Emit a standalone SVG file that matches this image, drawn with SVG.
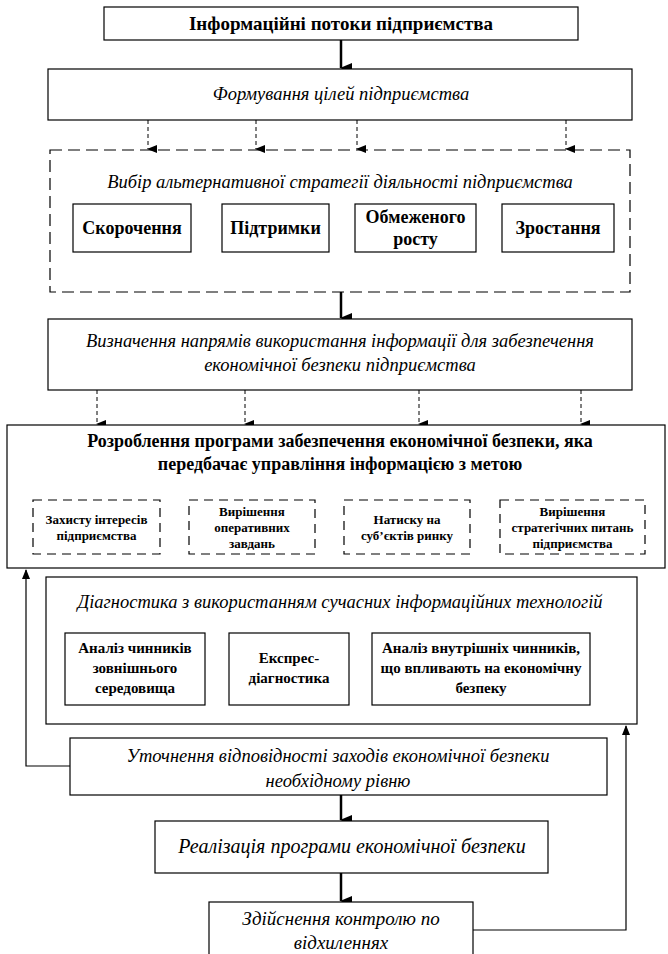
<svg xmlns="http://www.w3.org/2000/svg" width="668" height="954" viewBox="0 0 668 954">
<style>
.box{fill:#fff;stroke:#000;stroke-width:1.2}
.dbox{fill:none;stroke:#000;stroke-width:1.2;stroke-dasharray:12 6}
.sdbox{fill:none;stroke:#000;stroke-width:1.2;stroke-dasharray:9 6}
.thick{stroke:#000;stroke-width:2.5;fill:none}
.dash{stroke:#000;stroke-width:1;stroke-dasharray:4 3;fill:none}
.fb{stroke:#000;stroke-width:1.2;fill:none}
</style>
<defs>
<marker id="ah" markerUnits="userSpaceOnUse" markerWidth="10" markerHeight="12" refX="5" refY="11" orient="auto" viewBox="0 0 10 12"><path d="M0,0 L10,0 L5,12 Z" fill="#000"/></marker>
<marker id="ahs" markerUnits="userSpaceOnUse" markerWidth="8" markerHeight="10" refX="4" refY="9" orient="auto" viewBox="0 0 8 10"><path d="M0,0 L8,0 L4,10 Z" fill="#000"/></marker>
<marker id="ahu" markerUnits="userSpaceOnUse" markerWidth="8" markerHeight="10" refX="4" refY="1" viewBox="0 0 8 10"><path d="M0,10 L8,10 L4,0 Z" fill="#000"/></marker>
</defs>

<g id="connectors">
<line class="thick" x1="341" y1="40" x2="341" y2="68" marker-end="url(#ah)"/>
<line class="dash" x1="148" y1="120" x2="148" y2="149" marker-end="url(#ahs)"/>
<line class="dash" x1="256" y1="120" x2="256" y2="149" marker-end="url(#ahs)"/>
<line class="dash" x1="357" y1="120" x2="357" y2="149" marker-end="url(#ahs)"/>
<line class="dash" x1="566" y1="120" x2="566" y2="149" marker-end="url(#ahs)"/>
<line class="thick" x1="341" y1="292" x2="341" y2="318" marker-end="url(#ah)"/>
<line class="dash" x1="97" y1="390" x2="97" y2="424" marker-end="url(#ahs)"/>
<line class="dash" x1="245" y1="390" x2="245" y2="424" marker-end="url(#ahs)"/>
<line class="dash" x1="419" y1="390" x2="419" y2="424" marker-end="url(#ahs)"/>
<line class="dash" x1="581" y1="390" x2="581" y2="424" marker-end="url(#ahs)"/>
<polyline class="fb" points="70,766 26,766 26,570" marker-end="url(#ahu)"/>
<line class="thick" x1="341" y1="795" x2="341" y2="820" marker-end="url(#ah)"/>
<line class="thick" x1="341" y1="873" x2="341" y2="901" marker-end="url(#ah)"/>
<polyline class="fb" points="473,930 626,930 626,726" marker-end="url(#ahu)"/>
</g>

<g id="n1">
<rect class="box" x="104" y="7" width="474" height="33"/>
<text font-family="'Liberation Serif', serif" text-anchor="middle" font-weight="bold" x="341" y="30" font-size="19">Інформаційні потоки підприємства</text>
</g>
<g id="n2">
<rect class="box" x="48" y="69" width="584" height="51"/>
<text font-family="'Liberation Serif', serif" text-anchor="middle" font-style="italic" x="341" y="100" font-size="18.5">Формування цілей підприємства</text>
</g>
<g id="n3">
<rect class="dbox" x="50" y="150" width="580" height="142"/>
<text font-family="'Liberation Serif', serif" text-anchor="middle" font-style="italic" x="340" y="188" font-size="18.5">Вибір альтернативної стратегії діяльності підприємства</text>
</g>
<g id="n3a">
<rect class="box" x="73" y="204" width="118" height="48"/>
<text font-family="'Liberation Serif', serif" text-anchor="middle" font-weight="bold" x="132" y="234" font-size="18">Скорочення</text>
</g>
<g id="n3b">
<rect class="box" x="222" y="204" width="107" height="48"/>
<text font-family="'Liberation Serif', serif" text-anchor="middle" font-weight="bold" x="275.5" y="234" font-size="18">Підтримки</text>
</g>
<g id="n3c">
<rect class="box" x="355" y="204" width="121" height="48"/>
<text font-family="'Liberation Serif', serif" text-anchor="middle" font-weight="bold" x="415.5" y="223" font-size="18">Обмеженого</text>
<text font-family="'Liberation Serif', serif" text-anchor="middle" font-weight="bold" x="415.5" y="245" font-size="18">росту</text>
</g>
<g id="n3d">
<rect class="box" x="502" y="204" width="112" height="48"/>
<text font-family="'Liberation Serif', serif" text-anchor="middle" font-weight="bold" x="558" y="234" font-size="18">Зростання</text>
</g>
<g id="n4">
<rect class="box" x="48" y="319" width="584" height="71"/>
<text font-family="'Liberation Serif', serif" text-anchor="middle" font-style="italic" x="340" y="347" font-size="18.5">Визначення напрямів використання інформації для забезпечення</text>
<text font-family="'Liberation Serif', serif" text-anchor="middle" font-style="italic" x="340" y="371" font-size="18.5">економічної безпеки підприємства</text>
</g>
<g id="n5">
<rect class="box" x="7" y="425" width="658" height="143"/>
<text font-family="'Liberation Serif', serif" text-anchor="middle" font-weight="bold" x="340" y="447" font-size="18">Розроблення програми забезпечення економічної безпеки, яка</text>
<text font-family="'Liberation Serif', serif" text-anchor="middle" font-weight="bold" x="340" y="470" font-size="18">передбачає управління інформацією з метою</text>
</g>
<g id="n5a">
<rect class="sdbox" x="33" y="500" width="127" height="54"/>
<text font-family="'Liberation Serif', serif" text-anchor="middle" font-weight="bold" x="96.5" y="524" font-size="13">Захисту інтересів</text>
<text font-family="'Liberation Serif', serif" text-anchor="middle" font-weight="bold" x="96.5" y="540" font-size="13">підприємства</text>
</g>
<g id="n5b">
<rect class="sdbox" x="189" y="500" width="126" height="54"/>
<text font-family="'Liberation Serif', serif" text-anchor="middle" font-weight="bold" x="252" y="516" font-size="13">Вирішення</text>
<text font-family="'Liberation Serif', serif" text-anchor="middle" font-weight="bold" x="252" y="532" font-size="13">оперативних</text>
<text font-family="'Liberation Serif', serif" text-anchor="middle" font-weight="bold" x="252" y="548" font-size="13">завдань</text>
</g>
<g id="n5c">
<rect class="sdbox" x="344" y="500" width="126" height="54"/>
<text font-family="'Liberation Serif', serif" text-anchor="middle" font-weight="bold" x="407" y="524" font-size="13">Натиску на</text>
<text font-family="'Liberation Serif', serif" text-anchor="middle" font-weight="bold" x="407" y="540" font-size="13">суб’єктів ринку</text>
</g>
<g id="n5d">
<rect class="sdbox" x="500" y="500" width="145" height="54"/>
<text font-family="'Liberation Serif', serif" text-anchor="middle" font-weight="bold" x="572.5" y="516" font-size="13">Вирішення</text>
<text font-family="'Liberation Serif', serif" text-anchor="middle" font-weight="bold" x="572.5" y="532" font-size="13">стратегічних питань</text>
<text font-family="'Liberation Serif', serif" text-anchor="middle" font-weight="bold" x="572.5" y="548" font-size="13">підприємства</text>
</g>
<g id="n6">
<rect class="box" x="46" y="577" width="591" height="147"/>
<text font-family="'Liberation Serif', serif" text-anchor="middle" font-style="italic" x="340" y="608" font-size="18.5">Діагностика з використанням сучасних інформаційних технологій</text>
</g>
<g id="n6a">
<rect class="box" x="65" y="633" width="140" height="72"/>
<text font-family="'Liberation Serif', serif" text-anchor="middle" font-weight="bold" x="135" y="653" font-size="15">Аналіз чинників</text>
<text font-family="'Liberation Serif', serif" text-anchor="middle" font-weight="bold" x="135" y="673" font-size="15">зовнішнього</text>
<text font-family="'Liberation Serif', serif" text-anchor="middle" font-weight="bold" x="135" y="693" font-size="15">середовища</text>
</g>
<g id="n6b">
<rect class="box" x="229" y="633" width="120" height="72"/>
<text font-family="'Liberation Serif', serif" text-anchor="middle" font-weight="bold" x="289" y="663" font-size="15">Експрес-</text>
<text font-family="'Liberation Serif', serif" text-anchor="middle" font-weight="bold" x="289" y="683" font-size="15">діагностика</text>
</g>
<g id="n6c">
<rect class="box" x="372" y="633" width="218" height="72"/>
<text font-family="'Liberation Serif', serif" text-anchor="middle" font-weight="bold" x="481" y="653" font-size="15">Аналіз внутрішніх чинників,</text>
<text font-family="'Liberation Serif', serif" text-anchor="middle" font-weight="bold" x="481" y="673" font-size="15">що впливають на економічну</text>
<text font-family="'Liberation Serif', serif" text-anchor="middle" font-weight="bold" x="481" y="693" font-size="15">безпеку</text>
</g>
<g id="n7">
<rect class="box" x="70" y="738" width="537" height="57"/>
<text font-family="'Liberation Serif', serif" text-anchor="middle" font-style="italic" x="338" y="762" font-size="18.5">Уточнення відповідності заходів економічної безпеки</text>
<text font-family="'Liberation Serif', serif" text-anchor="middle" font-style="italic" x="338" y="787" font-size="18.5">необхідному рівню</text>
</g>
<g id="n8">
<rect class="box" x="155" y="821" width="393" height="52"/>
<text font-family="'Liberation Serif', serif" text-anchor="middle" font-style="italic" x="352" y="853" font-size="20">Реалізація програми економічної безпеки</text>
</g>
<g id="n9">
<rect class="box" x="209" y="902" width="264" height="62"/>
<text font-family="'Liberation Serif', serif" text-anchor="middle" font-style="italic" x="341" y="925" font-size="19">Здійснення контролю по</text>
<text font-family="'Liberation Serif', serif" text-anchor="middle" font-style="italic" x="341" y="949" font-size="19">відхиленнях</text>
</g>
</svg>
